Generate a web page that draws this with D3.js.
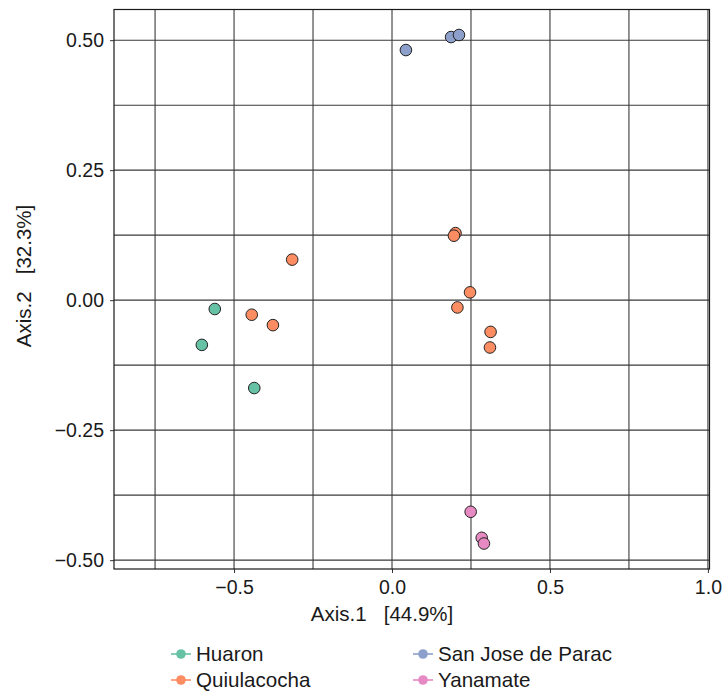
<!DOCTYPE html>
<html>
<head>
<meta charset="utf-8">
<script src="https://cdn.jsdelivr.net/npm/d3@7"></script>
<style>
  body { margin: 0; background: #fff; }
  text { font-family: "Liberation Sans", Arial, sans-serif; }
</style>
</head>
<body>
<div id="chart"></div>
<script>
// groups and colours (Set2)
var groups = ["Huaron", "Quiulacocha", "San Jose de Parac", "Yanamate"];
var colors = ["#66C2A5", "#FC8D62", "#8DA0CB", "#E78AC3"];

// PCoA coordinates
var huaronX = [-0.561, -0.602, -0.436];
var huaronY = [-0.017, -0.086, -0.169];
var quiuX = [0.201, 0.196, 0.247, 0.207, 0.312, 0.310, -0.316, -0.444, -0.377];
var quiuY = [0.129, 0.124, 0.015, -0.014, -0.061, -0.091, 0.078, -0.028, -0.048];
var parcX = [0.044, 0.187, 0.212];
var parcY = [0.481, 0.506, 0.510];
var yanaX = [0.249, 0.284, 0.291];
var yanaY = [-0.407, -0.457, -0.468];

var xTicks = [-0.5, 0, 0.5, 1.0];
var yTicks = [-0.5, -0.25, 0, 0.25, 0.5];
var xMinor = [-0.75, -0.25, 0.25, 0.75];
var yMinor = [-0.375, -0.125, 0.125, 0.375];

var xLabel = "Axis.1   [44.9%]";
var yLabel = "Axis.2   [32.3%]";

var points = [];
[[huaronX, huaronY], [quiuX, quiuY], [parcX, parcY], [yanaX, yanaY]].forEach(function(s, g){
  for (var i = 0; i < s[0].length; i++) {
    points.push({x: s[0][i], y: s[1][i], g: g});
  }
});

var width = 724, height = 691;
// panel box (note: "top" is reserved on window, so pTop etc.)
var pLeft = 114, pRight = 709.5, pTop = 9.5, pBottom = 569;

var svg = d3.select("#chart").append("svg")
  .attr("width", width)
  .attr("height", height);

var x = d3.scaleLinear().domain([-0.88, 1.005]).range([pLeft, pRight]);
var y = d3.scaleLinear().domain([-0.517, 0.559]).range([pBottom, pTop]);

/* grid */
var grid = svg.append("g");
grid.selectAll("line.vx")
  .data(xMinor.concat(xTicks))
  .enter().append("line")
  .attr("x1", function(d){return x(d);})
  .attr("x2", function(d){return x(d);})
  .attr("y1", pTop).attr("y2", pBottom)
  .attr("stroke", "#3a3a3a")
  .attr("stroke-width", 1.1);
grid.selectAll("line.hy")
  .data(yMinor.concat(yTicks))
  .enter().append("line")
  .attr("y1", function(d){return y(d);})
  .attr("y2", function(d){return y(d);})
  .attr("x1", pLeft).attr("x2", pRight)
  .attr("stroke", "#3a3a3a")
  .attr("stroke-width", 1.1);

/* axes */
var xAxis = svg.append("g")
  .attr("transform", "translate(0," + pBottom + ")")
  .call(d3.axisBottom(x).tickValues(xTicks).tickSize(4).tickPadding(7)
    .tickFormat(d3.format(".1f")));
var yAxis = svg.append("g")
  .attr("transform", "translate(" + pLeft + ",0)")
  .call(d3.axisLeft(y).tickValues(yTicks).tickSize(4).tickPadding(6)
    .tickFormat(d3.format(".2f")));
[xAxis, yAxis].forEach(function(a){
  a.select(".domain").remove();
  a.selectAll(".tick line").attr("stroke", "#333");
  a.selectAll(".tick text")
    .attr("fill", "#1a1a1a")
    .style("font-size", "19.5px")
    .style("font-family", "'Liberation Sans', Arial, sans-serif");
});

// panel border
svg.append("rect")
  .attr("x", pLeft).attr("y", pTop)
  .attr("width", pRight - pLeft).attr("height", pBottom - pTop)
  .attr("fill", "none")
  .attr("stroke", "#1a1a1a")
  .attr("stroke-width", 1.2);

/* points */
svg.selectAll("circle.pt")
  .data(points)
  .enter()
  .append("circle")
  .attr("class", "pt")
  .attr("cx", function(d){return x(d.x);})
  .attr("cy", function(d){return y(d.y);})
  .attr("r", 5.8)
  .attr("fill", function(d){return colors[d.g];})
  .attr("stroke", "#222")
  .attr("stroke-width", 1);

/* axis titles */
svg.append("text")
  .attr("x", 382).attr("y", 621)
  .attr("text-anchor", "middle")
  .style("font-size", "20.5px")
  .attr("fill", "#1a1a1a")
  .attr("xml:space", "preserve")
  .text(xLabel);
svg.append("text")
  .attr("transform", "translate(31,276) rotate(-90)")
  .attr("text-anchor", "middle")
  .style("font-size", "20.5px")
  .attr("fill", "#1a1a1a")
  .attr("xml:space", "preserve")
  .text(yLabel);

/* legend */
var legend = svg.selectAll("g.leg")
  .data(groups)
  .enter()
  .append("g")
  .attr("transform", function(d, i){
    var cx = i < 2 ? 181 : 423;
    var cy = i % 2 === 0 ? 654 : 680;
    return "translate(" + cx + "," + cy + ")";
  });
legend.append("line")
  .attr("x1", -10).attr("x2", 10)
  .attr("stroke", function(d, i){return colors[i];})
  .attr("stroke-width", 1.6);
legend.append("circle")
  .attr("r", 4.8)
  .attr("fill", function(d, i){return colors[i];});
legend.append("text")
  .attr("x", 15).attr("y", 7)
  .style("font-size", "20.6px")
  .attr("fill", "#1a1a1a")
  .text(function(d){return d;});
</script>
</body>
</html>
